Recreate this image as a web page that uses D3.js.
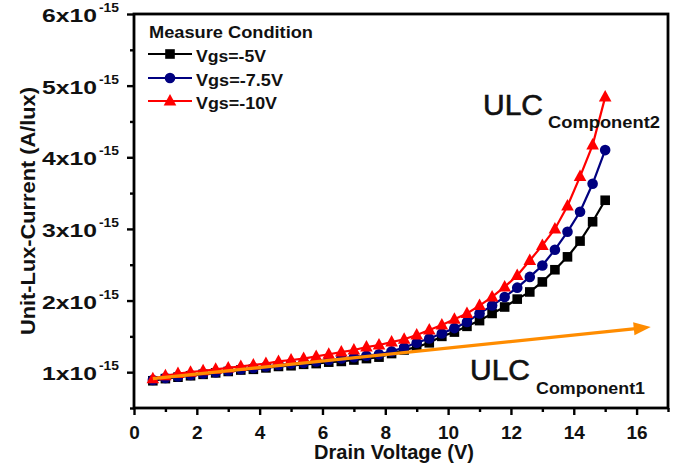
<!DOCTYPE html>
<html>
<head>
<meta charset="utf-8">
<script src="https://cdn.jsdelivr.net/npm/d3@7"></script>
<style>
  html, body { margin: 0; padding: 0; background: #fff; }
  svg text { font-family: "Liberation Sans", Arial, sans-serif; }
</style>
</head>
<body>
<svg id="chart" width="686" height="467"></svg>
<script>
// ---------------- data ----------------
const drainVoltage = [0.6, 1.0, 1.4, 1.8, 2.2, 2.6, 3.0, 3.4, 3.8, 4.2, 4.6, 5.0, 5.4, 5.8, 6.2, 6.6, 7.0, 7.4, 7.8,
  8.2, 8.6, 9.0, 9.4, 9.8, 10.2, 10.6, 11.0, 11.4, 11.8, 12.2, 12.6, 13.0, 13.4, 13.8, 14.2, 14.6, 15.0];
// Unit-Lux-Current in units of 1e-15 A/lux
const vgs5 = [0.88, 0.91, 0.93, 0.95, 0.97, 0.99, 1.01, 1.03, 1.04, 1.06, 1.08, 1.09, 1.11, 1.12, 1.14, 1.15, 1.17, 1.19, 1.21,
  1.26, 1.31, 1.35, 1.41, 1.50, 1.56, 1.64, 1.72, 1.82, 1.91, 2.02, 2.12, 2.26, 2.43, 2.61, 2.83, 3.10, 3.40];
const vgs75 = [0.89, 0.92, 0.94, 0.96, 0.98, 1.00, 1.02, 1.04, 1.06, 1.08, 1.10, 1.12, 1.13, 1.15, 1.17, 1.19, 1.21, 1.23, 1.25,
  1.29, 1.345, 1.41, 1.47, 1.54, 1.615, 1.70, 1.82, 1.93, 2.05, 2.18, 2.33, 2.49, 2.71, 2.96, 3.24, 3.63, 4.10];
const vgs10 = [0.91, 0.95, 0.98, 1.00, 1.02, 1.04, 1.06, 1.08, 1.10, 1.12, 1.15, 1.17, 1.19, 1.22, 1.25, 1.28, 1.31, 1.35, 1.38,
  1.42, 1.46, 1.52, 1.59, 1.66, 1.74, 1.82, 1.93, 2.05, 2.19, 2.35, 2.56, 2.77, 3.00, 3.32, 3.73, 4.17, 4.84];
const seriesNames = ["Vgs=-5V", "Vgs=-7.5V", "Vgs=-10V"];
const seriesColors = ["#000000", "#000080", "#ff0000"];
const seriesShapes = ["square", "circle", "triangle"];
const arrowX = [0.6, 16.45];
const arrowY = [0.91, 1.63];
const xTicks = [0, 2, 4, 6, 8, 10, 12, 14, 16];
const xMinorTicks = [1, 3, 5, 7, 9, 11, 13, 15, 17];
const yTicks = [1, 2, 3, 4, 5, 6];
const yMinorTicks = [0.5, 1.5, 2.5, 3.5, 4.5, 5.5];
const yExponent = "-15";

// ---------------- layout ----------------
const svg = d3.select("#chart");
const L = 134, R = 668, T = 14, B = 408;
const x = d3.scaleLinear().domain([0, 17]).range([L, R]);
const y = d3.scaleLinear().domain([0.5, 6]).range([B, T]);

// axes ticks
const gx = svg.append("g").attr("transform", `translate(0,${B})`);
gx.call(d3.axisBottom(x).tickValues(xTicks).tickSize(7).tickFormat(d3.format("d")))
  .call(g => g.select(".domain").remove());
gx.selectAll(".tick line").attr("stroke", "#000").attr("stroke-width", 2.4);
gx.selectAll(".tick text").attr("dy", 0).attr("y", 31)
  .attr("font-size", 19).attr("font-weight", "bold").attr("fill", "#111");
const gxm = svg.append("g").attr("transform", `translate(0,${B})`);
gxm.call(d3.axisBottom(x).tickValues(xMinorTicks).tickSize(4).tickFormat(""))
  .call(g => g.select(".domain").remove());
gxm.selectAll(".tick line").attr("stroke", "#000").attr("stroke-width", 2.4);

const gy = svg.append("g").attr("transform", `translate(${L},0)`);
gy.call(d3.axisLeft(y).tickValues(yTicks).tickSize(7).tickFormat(""))
  .call(g => g.select(".domain").remove());
gy.selectAll(".tick line").attr("stroke", "#000").attr("stroke-width", 2.4);
const gym = svg.append("g").attr("transform", `translate(${L},0)`);
gym.call(d3.axisLeft(y).tickValues(yMinorTicks).tickSize(4).tickFormat(""))
  .call(g => g.select(".domain").remove());
gym.selectAll(".tick line").attr("stroke", "#000").attr("stroke-width", 2.4);

// y tick labels  "Nx10^-15"
yTicks.forEach(v => {
  svg.append("text")
    .attr("x", 42).attr("y", y(v) + 8)
    .attr("font-size", 19).attr("font-weight", "bold").attr("fill", "#111")
    .attr("textLength", 55).attr("lengthAdjust", "spacingAndGlyphs")
    .text(`${v}x10`);
  svg.append("text")
    .attr("x", 99).attr("y", y(v) - 2)
    .attr("font-size", 13).attr("font-weight", "bold").attr("fill", "#111")
    .attr("textLength", 20).attr("lengthAdjust", "spacingAndGlyphs")
    .text(yExponent);
});

// axis titles
svg.append("text")
  .attr("x", 394).attr("y", 459)
  .attr("text-anchor", "middle")
  .attr("font-size", 20).attr("font-weight", "bold").attr("fill", "#111")
  .attr("textLength", 160).attr("lengthAdjust", "spacingAndGlyphs")
  .text("Drain Voltage (V)");
svg.append("text")
  .attr("transform", `translate(35,${(T + B) / 2}) rotate(-90)`)
  .attr("text-anchor", "middle")
  .attr("font-size", 21).attr("font-weight", "bold").attr("fill", "#111")
  .attr("textLength", 248).attr("lengthAdjust", "spacingAndGlyphs")
  .text("Unit-Lux-Current (A/lux)");

// ---------------- series ----------------
const allSeries = [vgs5, vgs75, vgs10];
const line = d3.line().x(d => x(d[0])).y(d => y(d[1]));
function drawMarker(g, shape, cx, cy, color) {
  if (shape === "square") {
    g.append("rect").attr("x", cx - 4.8).attr("y", cy - 4.8).attr("width", 9.6).attr("height", 9.6).attr("fill", color);
  } else if (shape === "circle") {
    g.append("circle").attr("cx", cx).attr("cy", cy).attr("r", 5.3).attr("fill", color);
  } else {
    g.append("path").attr("d", `M${cx},${cy - 7}L${cx + 6.3},${cy + 4.5}L${cx - 6.3},${cy + 4.5}Z`).attr("fill", color);
  }
}
allSeries.forEach((vals, i) => {
  const pts = drainVoltage.map((v, j) => [v, vals[j]]);
  const g = svg.append("g");
  g.append("path").attr("d", line(pts)).attr("fill", "none")
    .attr("stroke", seriesColors[i]).attr("stroke-width", 2.2);
  pts.forEach(p => drawMarker(g, seriesShapes[i], x(p[0]), y(p[1]), seriesColors[i]));
});

// orange arrow ULC component 1
(function () {
  const x0 = x(arrowX[0]), y0 = y(arrowY[0]), x1 = x(arrowX[1]), y1 = y(arrowY[1]);
  const ang = Math.atan2(y1 - y0, x1 - x0);
  const hl = 17, hw = 6.5;
  const bx = x1 - hl * Math.cos(ang), by = y1 - hl * Math.sin(ang);
  svg.append("line").attr("x1", x0).attr("y1", y0).attr("x2", bx + 2 * Math.cos(ang)).attr("y2", by + 2 * Math.sin(ang))
    .attr("stroke", "#ff8c00").attr("stroke-width", 3.2);
  const px = -Math.sin(ang), py = Math.cos(ang);
  svg.append("path")
    .attr("d", `M${x1},${y1}L${bx + hw * px},${by + hw * py}L${bx - hw * px},${by - hw * py}Z`)
    .attr("fill", "#ff8c00");
})();

// frame
svg.append("rect").attr("x", L).attr("y", T).attr("width", R - L).attr("height", B - T)
  .attr("fill", "none").attr("stroke", "#000").attr("stroke-width", 2.8);

// legend
const lg = svg.append("g");
lg.append("text").attr("x", 149).attr("y", 38)
  .attr("font-size", 17).attr("font-weight", "bold").attr("fill", "#111")
  .attr("textLength", 164).attr("lengthAdjust", "spacingAndGlyphs")
  .text("Measure Condition");
const legendRows = [54, 78, 101];
const legendWidths = [70, 87, 81];
seriesNames.forEach((name, i) => {
  const cy = legendRows[i];
  lg.append("line").attr("x1", 148).attr("x2", 192).attr("y1", cy).attr("y2", cy)
    .attr("stroke", seriesColors[i]).attr("stroke-width", 2.2);
  drawMarker(lg, seriesShapes[i], 170, cy, seriesColors[i]);
  lg.append("text").attr("x", 196).attr("y", cy + 7.5)
    .attr("font-size", 17).attr("font-weight", "bold").attr("fill", "#111")
    .attr("textLength", legendWidths[i]).attr("lengthAdjust", "spacingAndGlyphs")
    .text(name);
});

// annotations
function ulc(xp, yp, sub, subX, subY, subW) {
  svg.append("text").attr("x", xp).attr("y", yp)
    .attr("font-size", 29).attr("fill", "#111")
    .attr("stroke", "#111").attr("stroke-width", 0.6)
    .attr("textLength", 60).attr("lengthAdjust", "spacingAndGlyphs")
    .text("ULC");
  svg.append("text").attr("x", subX).attr("y", subY)
    .attr("font-size", 17).attr("font-weight", "bold").attr("fill", "#111")
    .attr("textLength", subW).attr("lengthAdjust", "spacingAndGlyphs")
    .text(sub);
}
ulc(483, 115, "Component2", 548, 128, 112);
ulc(470, 380, "Component1", 536, 394, 109);
</script>
</body>
</html>
